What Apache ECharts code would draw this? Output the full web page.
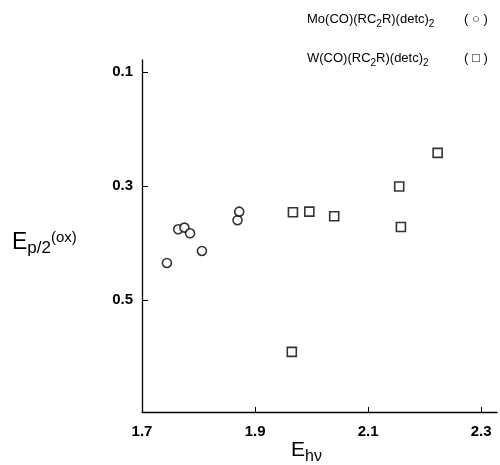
<!DOCTYPE html>
<html>
<head>
<meta charset="utf-8">
<script src="https://cdn.jsdelivr.net/npm/echarts@6/dist/echarts.min.js"></script>
<style>html,body{margin:0;padding:0;background:#fff}#c{width:500px;height:465px}</style>
</head>
<body>
<div id="c"></div>
<script>
// Mo(CO)(RC2R)(detc)2 — circles
const moX = [1.744, 1.764, 1.775, 1.785, 1.806, 1.869, 1.872];
const moY = [0.435, 0.376, 0.373, 0.383, 0.414, 0.360, 0.345];
// W(CO)(RC2R)(detc)2 — squares
const wX = [1.967, 1.996, 2.040, 2.155, 2.158, 2.223, 1.965];
const wY = [0.346, 0.345, 0.353, 0.301, 0.372, 0.242, 0.591];
const xTicks = [1.7, 1.9, 2.1, 2.3];
const yTicks = [0.1, 0.3, 0.5];

const chart = echarts.init(document.getElementById('c'), null, {renderer: 'canvas'});
const F = 'Liberation Sans, Arial, sans-serif';
const rl = {
  a: {fontFamily: F, fontSize: 13, fill: '#000'},
  s: {fontFamily: F, fontSize: 10, fill: '#000', padding: [10, 0, 0, 0]}
};
chart.setOption({
  animation: false,
  backgroundColor: '#fff',
  grid: {left: 142, top: 60, width: 355, height: 352},
  xAxis: {
    type: 'value', min: 1.7, max: 2.328,
    axisLine: {lineStyle: {color: '#000', width: 1.3}},
    axisTick: {inside: true, length: 5, customValues: [1.9, 2.1, 2.3], lineStyle: {color: '#000'}},
    axisLabel: {customValues: xTicks, color: '#000', fontFamily: F, fontWeight: 'bold', fontSize: 15, margin: 12,
      formatter: v => v.toFixed(1)},
    splitLine: {show: false}
  },
  yAxis: {
    type: 'value', inverse: true, min: 0.079, max: 0.6965,
    axisLine: {lineStyle: {color: '#000', width: 1.3}},
    axisTick: {inside: true, length: 6, customValues: yTicks, lineStyle: {color: '#000'}},
    axisLabel: {customValues: yTicks, color: '#000', fontFamily: F, fontWeight: 'bold', fontSize: 15, margin: 9,
      formatter: v => v.toFixed(1)},
    splitLine: {show: false}
  },
  series: [
    {type: 'scatter', data: moX.map((x, i) => [x, moY[i]]), symbol: 'circle', symbolSize: 9,
      itemStyle: {color: '#fff', borderColor: '#000', borderWidth: 1.6}},
    {type: 'scatter', data: wX.map((x, i) => [x, wY[i]]), symbol: 'rect', symbolSize: 9,
      itemStyle: {color: '#fff', borderColor: '#000', borderWidth: 1.6}}
  ],
  graphic: [
    {type: 'text', left: 307, top: 13, style: {rich: rl,
      text: '{a|Mo(CO)(RC}{s|2}{a|R)(detc)}{s|2}'}},
    {type: 'text', left: 464, top: 13, style: {rich: rl, text: '{a|( ○ )}'}},
    {type: 'text', left: 307, top: 52, style: {rich: rl,
      text: '{a|W(CO)(RC}{s|2}{a|R)(detc)}{s|2}'}},
    {type: 'text', left: 464, top: 52, style: {rich: rl, text: '{a|( □ )}'}},
    {type: 'text', left: 12, top: 230, style: {
      rich: {
        e: {fontFamily: F, fontSize: 23, fill: '#000'},
        s: {fontFamily: F, fontSize: 17, fill: '#000', padding: [12, 0, 0, 0]},
        u: {fontFamily: F, fontSize: 15, fill: '#000', padding: [0, 0, 10, 0]}
      },
      text: '{e|E}{s|p/2}{u|(ox)}'
    }},
    {type: 'text', left: 291, top: 440, style: {
      rich: {
        e: {fontFamily: F, fontSize: 21, fill: '#000'},
        s: {fontFamily: F, fontSize: 16, fill: '#000', padding: [12, 0, 0, 0]}
      },
      text: '{e|E}{s|hν}'
    }}
  ]
});
</script>
</body>
</html>
